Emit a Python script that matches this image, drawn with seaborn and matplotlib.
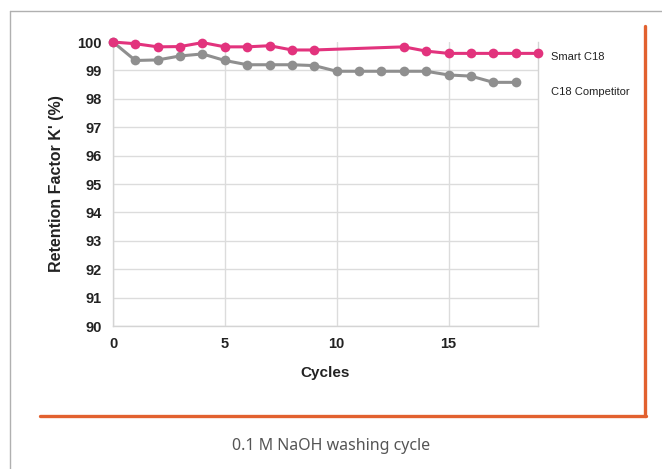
# retention factor over NaOH wash cycles, smart C18 vs competitor column
import matplotlib
matplotlib.use("Agg")
import matplotlib.pyplot as plt
import seaborn as sns
from matplotlib.lines import Line2D

# data
smart_cycles = [0, 1, 2, 3, 4, 5, 6, 7, 8, 9, 13, 14, 15, 16, 17, 18, 19]
smart_k = [100, 99.94, 99.83, 99.84, 99.98, 99.83, 99.83, 99.87, 99.72, 99.72,
           99.83, 99.68, 99.6, 99.6, 99.6, 99.6, 99.6]
comp_cycles = [0, 1, 2, 3, 4, 5, 6, 7, 8, 9, 10, 11, 12, 13, 14, 15, 16, 17, 18]
comp_k = [100, 99.35, 99.37, 99.51, 99.58, 99.35, 99.2, 99.2, 99.2, 99.17,
          98.97, 98.97, 98.97, 98.97, 98.97, 98.84, 98.8, 98.58, 98.58]
series_names = ["Smart C18", "C18 Competitor"]
x_ticks = [0, 5, 10, 15]
y_ticks = list(range(90, 101))

pink = "#e2337d"
grey = "#8f8f8f"

sns.set_theme(style="white")
plt.rcParams["font.family"] = ["Liberation Sans", "DejaVu Sans"]

fig = plt.figure(figsize=(6.62, 4.69), dpi=100)
ax = fig.add_axes([0.1707, 0.3049, 0.6420, 0.6055])

sns.lineplot(x=comp_cycles, y=comp_k, ax=ax, color=grey, marker="o", markersize=7,
             markeredgewidth=0, linewidth=2.2, clip_on=False, zorder=3)
sns.lineplot(x=smart_cycles, y=smart_k, ax=ax, color=pink, marker="o", markersize=7,
             markeredgewidth=0, linewidth=2.2, clip_on=False, zorder=4)

ax.set_xlim(0, 19)
ax.set_ylim(90, 100)
ax.set_xticks(x_ticks)
ax.set_yticks(y_ticks)
ax.grid(True, color="#dcdcdc", linewidth=1)
ax.get_ygridlines()[-1].set_visible(False)
for side in ["left", "bottom", "right"]:
    ax.spines[side].set_color("#d4d4d4")
    ax.spines[side].set_linewidth(1)
ax.spines["top"].set_visible(False)
ax.tick_params(length=0, labelsize=10.5, colors="#222222")
ax.tick_params(axis="x", pad=8)
ax.tick_params(axis="y", pad=8)
for lab in ax.get_xticklabels() + ax.get_yticklabels():
    lab.set_fontweight("bold")

ax.set_xlabel("Cycles", fontsize=11, fontweight="bold", color="#222222", labelpad=11)
ax.set_ylabel("Retention Factor K' (%)", fontsize=11.5, fontweight="bold",
              color="#222222", labelpad=10)

# series names next to the line ends
fig.text(551 / 662, 1 - 57 / 469, series_names[0], fontsize=8, va="center", color="#222222")
fig.text(551 / 662, 1 - 92 / 469, series_names[1], fontsize=8, va="center", color="#222222")

# page frame and orange box
fig.add_artist(Line2D([10 / 662, 1], [1 - 11 / 469] * 2, color="#b0b0b0", lw=1))
fig.add_artist(Line2D([10 / 662] * 2, [0, 1 - 11 / 469], color="#b0b0b0", lw=1))
fig.add_artist(Line2D([645 / 662] * 2, [1 - 26 / 469, 1 - 416 / 469], color="#e2612f", lw=2.4))
fig.add_artist(Line2D([40 / 662, 646 / 662], [1 - 416 / 469] * 2, color="#e2612f", lw=2.4))

fig.text(0.5, 1 - 446 / 469, "0.1 M NaOH washing cycle", ha="center", va="center",
         fontsize=11.5, color="#555555", family=["Noto Sans", "DejaVu Sans"])

fig.savefig("out.png", dpi=100)
